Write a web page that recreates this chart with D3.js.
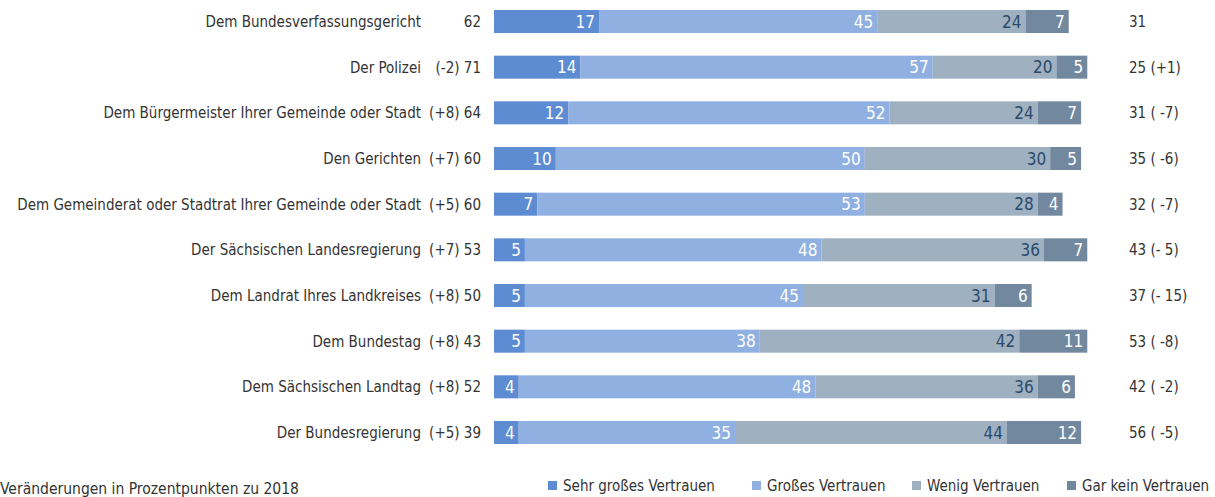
<!DOCTYPE html>
<html>
<head>
<meta charset="utf-8">
<script src="https://cdn.jsdelivr.net/npm/d3@7"></script>
<style>
  body { margin: 0; background: #fff; }
  svg text { font-family: "Liberation Sans Narrow", "DejaVu Sans Condensed", "Roboto", sans-serif; font-stretch: condensed; }
</style>
</head>
<body>
<svg id="chart" width="1215" height="497"></svg>
<script>
// Institutionen
var institutions = [
  "Dem Bundesverfassungsgericht",
  "Der Polizei",
  "Dem Bürgermeister Ihrer Gemeinde oder Stadt",
  "Den Gerichten",
  "Dem Gemeinderat oder Stadtrat Ihrer Gemeinde oder Stadt",
  "Der Sächsischen Landesregierung",
  "Dem Landrat Ihres Landkreises",
  "Dem Bundestag",
  "Dem Sächsischen Landtag",
  "Der Bundesregierung"
];
var sehrGross = [17, 14, 12, 10, 7, 5, 5, 5, 4, 4];
var gross     = [45, 57, 52, 50, 53, 48, 45, 38, 48, 35];
var wenig     = [24, 20, 24, 30, 28, 36, 31, 42, 36, 44];
var garKein   = [7, 5, 7, 5, 4, 7, 6, 11, 6, 12];

// Summen links (Vertrauen) und rechts (kein Vertrauen) mit Veränderung zu 2018
var leftTotals  = [62, 71, 64, 60, 60, 53, 50, 43, 52, 39];
var leftChange  = ["", "(-2)", "(+8)", "(+7)", "(+5)", "(+7)", "(+8)", "(+8)", "(+8)", "(+5)"];
var rightTotals = [31, 25, 31, 35, 32, 43, 37, 53, 42, 56];
var rightChange = ["", "(+1)", "( -7)", "( -6)", "( -7)", "(- 5)", "(- 15)", "( -8)", "( -2)", "( -5)"];

var seriesNames = ["Sehr großes Vertrauen", "Großes Vertrauen", "Wenig Vertrauen", "Gar kein Vertrauen"];
var colors = ["#5d8cd2", "#8fb0e1", "#9fb0c1", "#72889f"];
var labelColors = ["#ffffff", "#ffffff", "#2b4a6b", "#ffffff"];

var svg = d3.select("#chart");

var x = d3.scaleLinear().domain([0, 100]).range([494, 1112]);
var y = d3.scaleBand().domain(institutions).range([10, 444]).paddingInner(0.496).paddingOuter(0);

var rows = institutions.map(function (name, i) {
  return { name: name, values: [sehrGross[i], gross[i], wenig[i], garKein[i]] };
});

var row = svg.selectAll("g.row")
  .data(rows)
  .join("g")
  .attr("class", "row")
  .attr("transform", d => `translate(0,${y(d.name)})`);

row.each(function (d) {
  var g = d3.select(this);
  var acc = 0;
  d.values.forEach(function (v, k) {
    var x0 = x(acc), x1 = x(acc + v);
    acc += v;
    g.append("rect")
      .attr("x", x0)
      .attr("y", 0)
      .attr("width", x1 - x0)
      .attr("height", y.bandwidth())
      .attr("fill", colors[k]);
    g.append("text")
      .attr("x", x1 - 4)
      .attr("y", y.bandwidth() / 2)
      .attr("dy", "0.36em")
      .attr("text-anchor", "end")
      .attr("font-size", 17)
      .attr("fill", labelColors[k])
      .text(v);
  });
});

// Beschriftung links
row.append("text")
  .attr("x", 421)
  .attr("y", y.bandwidth() / 2)
  .attr("dy", "0.36em")
  .attr("text-anchor", "end")
  .attr("font-size", 15)
  .attr("fill", "#333")
  .text(d => d.name);

row.append("text")
  .attr("x", 481)
  .attr("y", y.bandwidth() / 2)
  .attr("dy", "0.36em")
  .attr("text-anchor", "end")
  .attr("font-size", 15)
  .attr("fill", "#333")
  .text((d, i) => (leftChange[i] ? leftChange[i] + " " : "") + leftTotals[i]);

// Beschriftung rechts
row.append("text")
  .attr("x", 1129)
  .attr("y", y.bandwidth() / 2)
  .attr("dy", "0.36em")
  .attr("text-anchor", "start")
  .attr("font-size", 15)
  .attr("fill", "#333")
  .text((d, i) => rightTotals[i] + (rightChange[i] ? " " + rightChange[i] : ""));

// Fußnote
svg.append("text")
  .attr("x", 0)
  .attr("y", 494)
  .attr("font-size", 15.5)
  .attr("fill", "#333")
  .text("Veränderungen in Prozentpunkten zu 2018");

// Legende
var legendX = [548, 752, 912, 1067];
var legend = svg.selectAll("g.legend")
  .data(seriesNames)
  .join("g")
  .attr("class", "legend")
  .attr("transform", (d, i) => `translate(${legendX[i]},481)`);

legend.append("rect")
  .attr("width", 9)
  .attr("height", 9)
  .attr("fill", (d, i) => colors[i]);

legend.append("text")
  .attr("x", 15)
  .attr("y", 4.5)
  .attr("dy", "0.36em")
  .attr("font-size", 15)
  .attr("fill", "#333")
  .text(d => d);
</script>
</body>
</html>
